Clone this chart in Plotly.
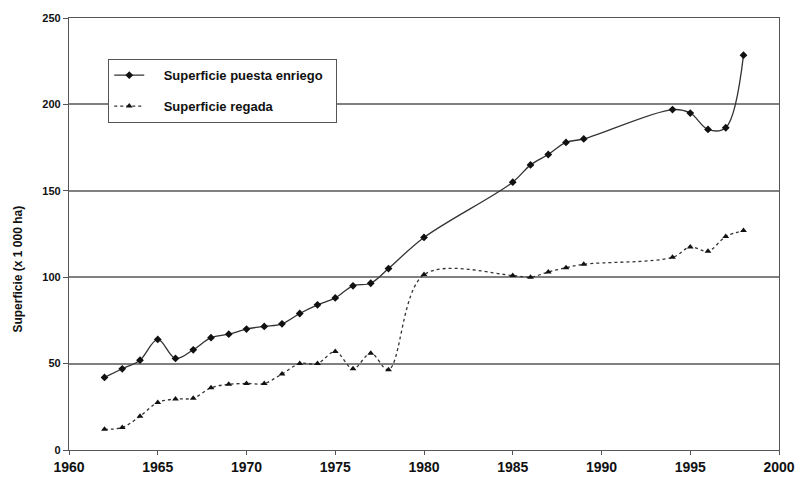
import plotly.graph_objects as go

years = [1962, 1963, 1964, 1965, 1966, 1967, 1968, 1969, 1970, 1971, 1972, 1973,
         1974, 1975, 1976, 1977, 1978, 1980, 1985, 1986, 1987, 1988, 1989, 1994,
         1995, 1996, 1997, 1998]
puesta_en_riego = [42, 47, 52, 64, 53, 58, 65, 67, 70, 71.5, 73, 79, 84, 88, 95, 96.5,
                   105, 123, 155, 165, 171, 178, 180, 197, 195, 185.5, 186.5, 228.5]
regada = [12, 13, 19.5, 27.5, 29.5, 30, 36, 38, 38.5, 38.5, 44, 50, 50, 57, 47, 56,
          46.5, 101.5, 101, 100, 103, 105.5, 107.5, 111.5, 117.5, 115, 123.5, 127]
x_ticks = [1960, 1965, 1970, 1975, 1980, 1985, 1990, 1995, 2000]
y_ticks = [0, 50, 100, 150, 200, 250]

FONT = "Arial, Liberation Sans, sans-serif"
PAD_L = "&nbsp;&nbsp;&nbsp;&nbsp;"
PAD_R = "&nbsp;&nbsp;"

fig = go.Figure()
fig.add_trace(go.Scatter(
    x=years, y=puesta_en_riego, name=PAD_L + "<b>Superficie puesta enriego</b>" + PAD_R,
    mode="lines+markers", line=dict(color="#333333", width=1.3, shape="spline", smoothing=1),
    marker=dict(symbol="diamond", size=6, color="#111111"), legendgroup="a"))
fig.add_trace(go.Scatter(
    x=years, y=regada, name=PAD_L + "<b>Superficie regada</b>",
    mode="lines+markers", line=dict(color="#333333", width=1.3, shape="spline", smoothing=1, dash="3px,3px"),
    marker=dict(symbol="triangle-up", size=6, color="#111111"), legendgroup="b"))

fig.update_layout(
    width=807, height=487,
    margin=dict(l=69, r=18, t=16, b=31),
    plot_bgcolor="white", paper_bgcolor="white",
    font=dict(family=FONT, color="#111111"),
    showlegend=True,
    legend=dict(x=0.055, y=0.905, xanchor="left", yanchor="top",
                bgcolor="white", bordercolor="#555555", borderwidth=1.2,
                font=dict(family=FONT, size=13, color="#111111", weight="bold"),
                traceorder="grouped", tracegroupgap=11),
    xaxis=dict(range=[1960, 2000], tickvals=x_ticks, ticks="outside", ticklen=4,
               tickcolor="#555555", showline=True, linecolor="#555555", linewidth=1.3,
               mirror=True, showgrid=False, zeroline=False,
               tickfont=dict(family=FONT, size=14, weight="bold")),
    yaxis=dict(range=[0, 250], tickvals=y_ticks, ticks="outside", ticklen=5,
               tickcolor="#555555", showline=True, linecolor="#555555", linewidth=1.3,
               mirror=True, showgrid=True, gridcolor="#808080", gridwidth=1.5,
               zeroline=False, tickfont=dict(family=FONT, size=11, weight="bold")),
    annotations=[dict(text="<b>Superficie (x 1 000 ha)</b>", textangle=-90,
                      xref="paper", yref="paper", x=-52/720, y=(456.5-272)/440,
                      xanchor="center", yanchor="middle", showarrow=False,
                      font=dict(family=FONT, size=12, weight="bold", color="#111111"))],
)

fig.write_html(
    "out.html",
    config={"displayModeBar": False},
    post_script=("document.documentElement.style.margin='0px';"
                 "document.documentElement.style.overflow='hidden';"
                 "document.body.style.margin='0px';"
                 "document.body.style.overflow='hidden';"),
)
